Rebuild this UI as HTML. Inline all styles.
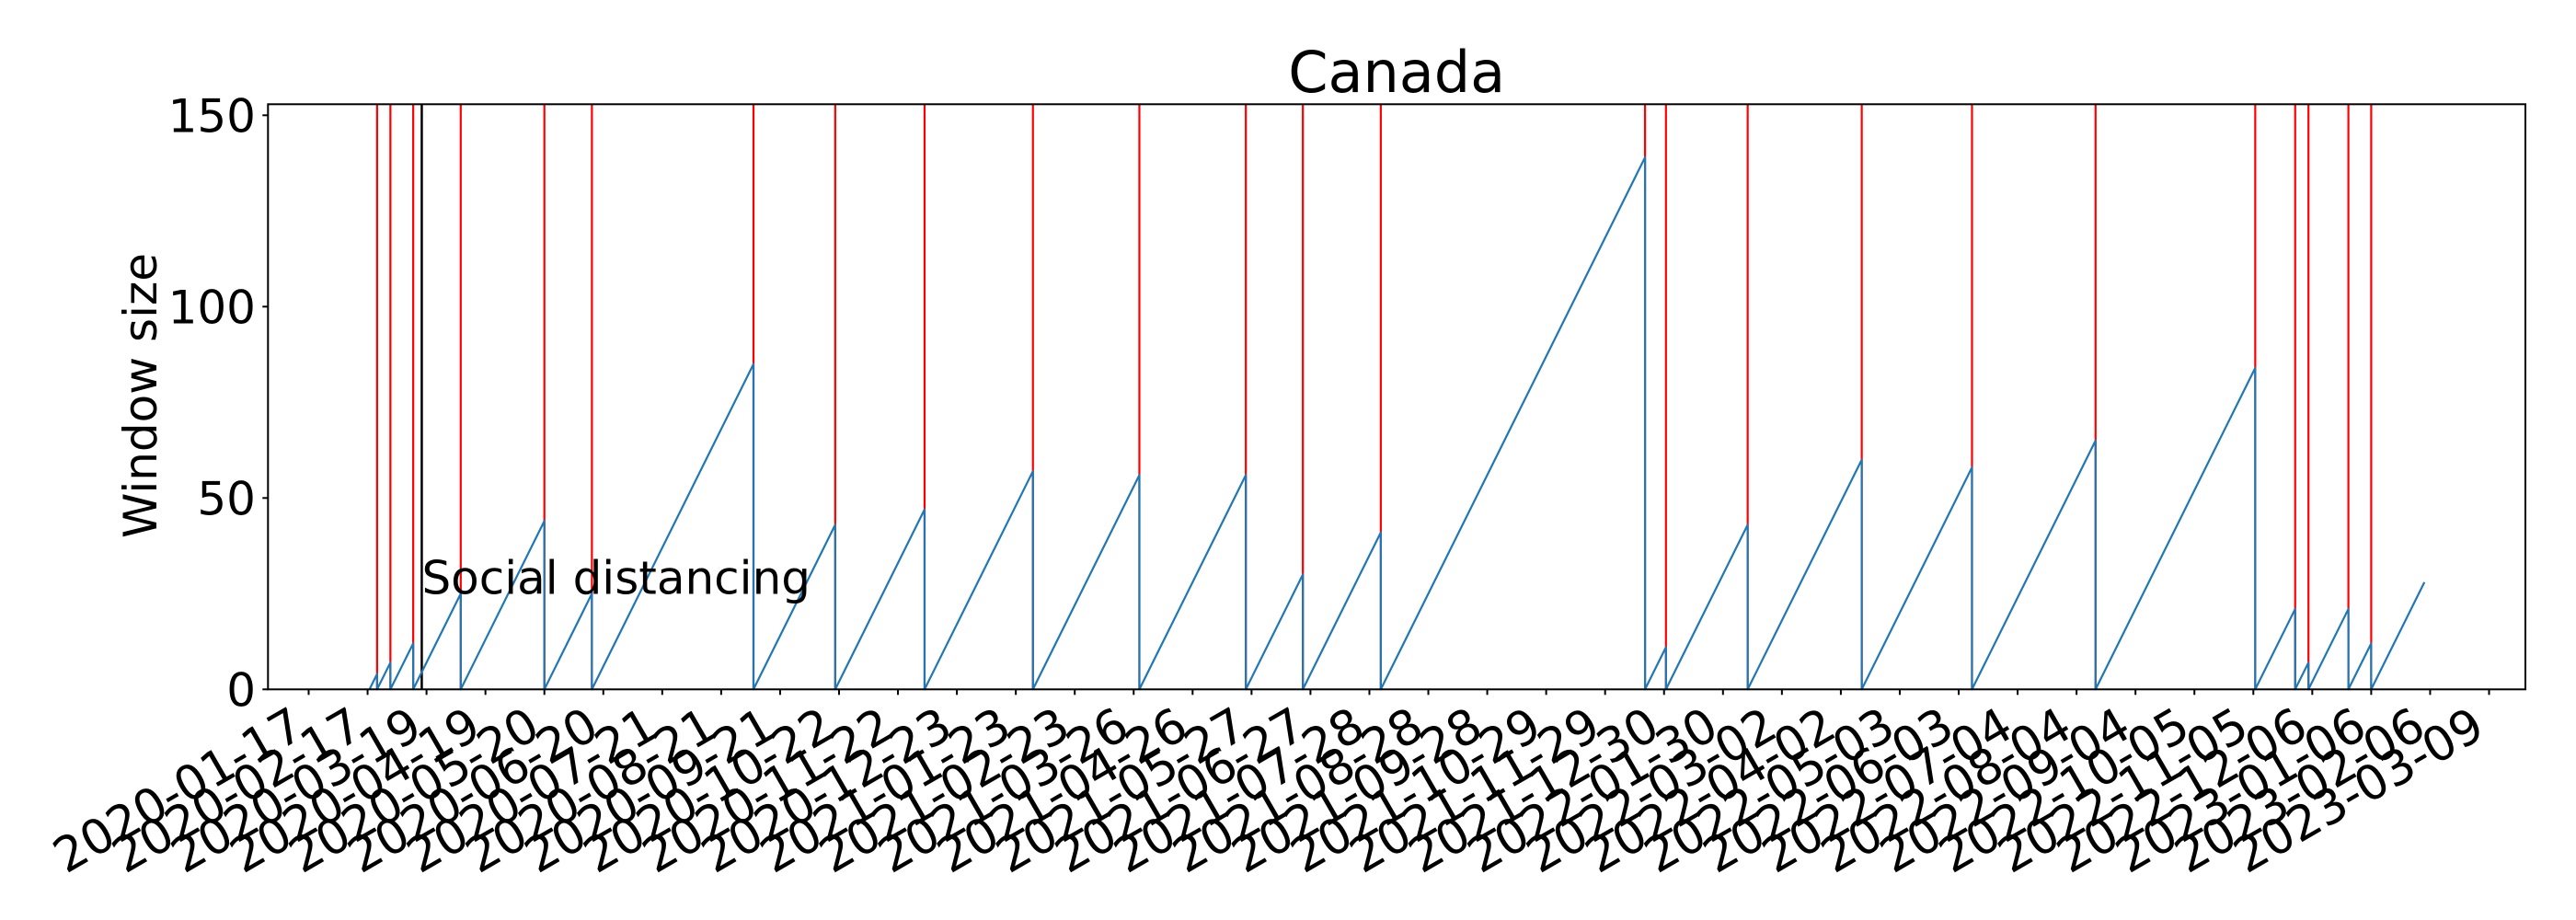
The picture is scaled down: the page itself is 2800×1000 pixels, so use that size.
<!DOCTYPE html>
<html><head><meta charset="utf-8"><style>
html,body{margin:0;padding:0;background:#fff;}
svg{display:block;font-family:"DejaVu Sans","Liberation Sans",sans-serif;}
</style></head><body>
<svg id="chart" width="2800" height="1000" viewBox="0 0 2800 1000">
<rect x="0" y="0" width="2800" height="1000" fill="#fff"/>
<g id="plot"></g>
</svg>
<script>
// Data (days since 2020-01-17)
const tickLabels = ["2020-01-17","2020-02-17","2020-03-19","2020-04-19","2020-05-20","2020-06-20","2020-07-21","2020-08-21","2020-09-21","2020-10-22","2020-11-22","2020-12-23","2021-01-23","2021-02-23","2021-03-26","2021-04-26","2021-05-27","2021-06-27","2021-07-28","2021-08-28","2021-09-28","2021-10-29","2021-11-29","2021-12-30","2022-01-30","2022-03-02","2022-04-02","2022-05-03","2022-06-03","2022-07-04","2022-08-04","2022-09-04","2022-10-05","2022-11-05","2022-12-06","2023-01-06","2023-02-06","2023-03-09"];
const tickDays = tickLabels.map((d,i)=>i*31);
const seriesStart = 32;
const resetDays = [36,43,55,80,124,149,234,277,324,381,437,493,523,564,703,714,757,817,875,940,1024,1045,1052,1073,1085];
const seriesEnd = 1113;
const interventionDay = 59.5;
const interventionLabel = "Social distancing";
const interventionLabelY = 25;
const yTicks = [0,50,100,150];

const NS = "http://www.w3.org/2000/svg";
const L=291.3, R=2745, T=113.3, B=749.3;
const x0px=335.5, pxPerDay=(2705.5-335.5)/(37*31);
const yMax=(B-T)/4.16;
function xs(d){return x0px + d*pxPerDay;}
function ys(v){return B - v*(B-T)/yMax;}
const g = document.getElementById('plot');
function mk(tag, attrs, parent){const e=document.createElementNS(NS,tag);for(const k in attrs)e.setAttribute(k,attrs[k]);(parent||g).appendChild(e);return e;}

resetDays.forEach(d=>{
  const l=mk('line',{x1:xs(d),x2:xs(d),y1:T,y2:B,stroke:'#ff0000','stroke-width':2.2});
  
  
});
const bl=mk('line',{x1:xs(interventionDay),x2:xs(interventionDay),y1:T,y2:B,stroke:'#000','stroke-width':2.5});



let pts=[], last=seriesStart;
pts.push([xs(seriesStart),ys(0)]);
resetDays.forEach(d=>{pts.push([xs(d),ys(d-last)]);pts.push([xs(d),ys(0)]);last=d;});
pts.push([xs(seriesEnd),ys(seriesEnd-last)]);
const pl=mk('polyline',{points:pts.map(p=>p.join(',')).join(' '),fill:'none',stroke:'#1f77b4','stroke-width':2.2,'stroke-linejoin':'round'});



const an=mk('text',{x:xs(interventionDay),y:ys(interventionLabelY),'font-size':50,fill:'#000'});
an.textContent=interventionLabel;



const fr=mk('rect',{x:L,y:T,width:R-L,height:B-T,fill:'none',stroke:'#000','stroke-width':2});



yTicks.forEach(v=>{
  const t=mk('line',{x1:L-6,x2:L,y1:ys(v),y2:ys(v),stroke:'#000','stroke-width':2});
  
  
  const tx=mk('text',{x:278,y:ys(v)+18,'font-size':50,'text-anchor':'end',fill:'#000'});
  tx.textContent=v;
  
  
});
tickDays.forEach((d,i)=>{
  const x=xs(d);
  const t=mk('line',{x1:x,x2:x,y1:B,y2:B+6,stroke:'#000','stroke-width':2});
  
  
  const ax=x-2, ay=799;
  const tx=mk('text',{x:ax,y:ay,'font-size':52,'text-anchor':'end',fill:'#000',transform:`rotate(-30 ${ax} ${ay})`});
  tx.textContent=tickLabels[i];
  
  
});
const yl=mk('text',{x:0,y:0,'font-size':50,'text-anchor':'middle',fill:'#000',transform:'translate(170,430) rotate(-90)'});
yl.textContent='Window size';


const ti=mk('text',{x:(L+R)/2,y:100,'font-size':62,'text-anchor':'middle',fill:'#000'});
ti.textContent='Canada';


</script>
</body></html>
